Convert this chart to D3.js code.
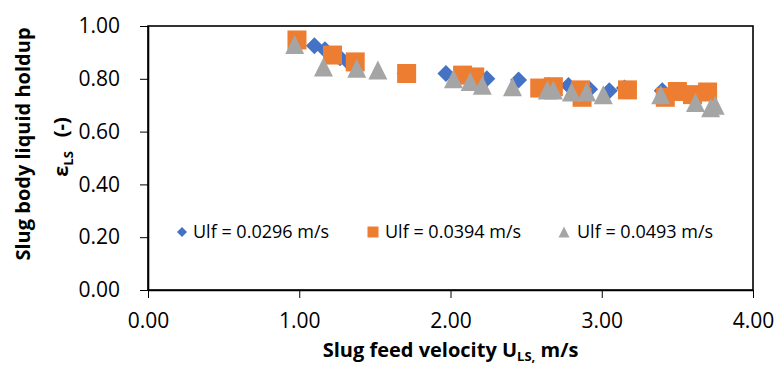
<!DOCTYPE html>
<html>
<head>
<meta charset="utf-8">
<script src="https://cdn.jsdelivr.net/npm/d3@7/dist/d3.min.js"></script>
<style>
  html, body { margin: 0; padding: 0; background: #fff; }
  svg { display: block; font-family: "Open Sans", "Liberation Sans", sans-serif; }
</style>
</head>
<body>
<svg id="chart" width="777" height="367"></svg>
<script>
// ---- Data ----
const seriesNames = ["Ulf = 0.0296 m/s", "Ulf = 0.0394 m/s", "Ulf = 0.0493 m/s"];
const seriesColors = ["#4472C4", "#ED7D31", "#A5A5A5"];
const seriesShapes = ["diamond", "square", "triangle"];

const ulf0296X = [1.10, 1.17, 1.27, 1.33, 1.70, 1.97, 2.24, 2.45, 2.65, 2.78, 2.92, 3.05, 3.15, 3.40, 3.60];
const ulf0296Y = [0.925, 0.91, 0.88, 0.86, 0.82, 0.82, 0.80, 0.795, 0.775, 0.775, 0.76, 0.755, 0.765, 0.755, 0.74];

const ulf0394X = [0.985, 1.22, 1.37, 1.71, 2.08, 2.16, 2.59, 2.68, 2.86, 2.87, 3.17, 3.42, 3.50, 3.60, 3.70];
const ulf0394Y = [0.947, 0.89, 0.864, 0.82, 0.814, 0.807, 0.765, 0.77, 0.758, 0.73, 0.758, 0.73, 0.752, 0.74, 0.75];

const ulf0493X = [0.97, 1.16, 1.38, 1.52, 2.02, 2.13, 2.21, 2.41, 2.64, 2.68, 2.80, 2.90, 3.01, 3.39, 3.62, 3.72, 3.75];
const ulf0493Y = [0.93, 0.845, 0.84, 0.833, 0.80, 0.79, 0.776, 0.77, 0.758, 0.758, 0.75, 0.75, 0.74, 0.74, 0.71, 0.69, 0.70];

const xTicks = [0, 1, 2, 3, 4];
const yTicks = [0, 0.2, 0.4, 0.6, 0.8, 1.0];

const seriesX = [ulf0296X, ulf0394X, ulf0493X];
const seriesY = [ulf0296Y, ulf0394Y, ulf0493Y];

// ---- Layout ----
const svg = d3.select("#chart");
const plot = { left: 148, right: 753, top: 26, bottom: 290 };

const x = d3.scaleLinear().domain([0, 4]).range([plot.left, plot.right]);
const y = d3.scaleLinear().domain([0, 1]).range([plot.bottom, plot.top]);

function shapePath(shape, s) {
  const h = s / 2;
  if (shape === "diamond") return `M0,${-h}L${h},0L0,${h}L${-h},0Z`;
  if (shape === "square") return `M${-h},${-h}H${h}V${h}H${-h}Z`;
  return `M0,${-h}L${h},${h}L${-h},${h}Z`;
}
const markerSize = { diamond: 17, square: 19, triangle: 19 };
const legendSize = { diamond: 10, square: 11, triangle: 11 };

// Frame
svg.append("rect")
  .attr("x", plot.left).attr("y", plot.top)
  .attr("width", plot.right - plot.left).attr("height", plot.bottom - plot.top)
  .attr("fill", "none").attr("stroke", "#000").attr("stroke-width", 1.6);

// Axes
const xAxis = d3.axisBottom(x).tickValues(xTicks).tickFormat(d3.format(".2f")).tickSizeInner(8).tickSizeOuter(0).tickPadding(15);
const yAxis = d3.axisLeft(y).tickValues(yTicks).tickFormat(d3.format(".2f")).tickSizeInner(8).tickSizeOuter(0).tickPadding(20);

const gx = svg.append("g").attr("transform", `translate(0,${plot.bottom})`).call(xAxis);
const gy = svg.append("g").attr("transform", `translate(${plot.left},0)`).call(yAxis);
[gx, gy].forEach(g => {
  g.select(".domain").attr("stroke", "#000").attr("stroke-width", 1.6);
  g.selectAll(".tick line").attr("stroke", "#000").attr("stroke-width", 1);
  g.selectAll(".tick text").attr("font-size", 21).attr("fill", "#000")
    .attr("font-family", "'Open Sans', sans-serif");
});

// Points
seriesX.forEach((xs, i) => {
  const pts = xs.map((v, j) => [v, seriesY[i][j]]);
  svg.append("g").selectAll("path").data(pts).join("path")
    .attr("transform", d => `translate(${x(d[0])},${y(d[1])})`)
    .attr("d", shapePath(seriesShapes[i], markerSize[seriesShapes[i]]))
    .attr("fill", seriesColors[i]);
});

// Legend
const legendPos = [{ mx: 182, tx: 193 }, { mx: 373, tx: 385 }, { mx: 564, tx: 577 }];
const legendY = 232;
seriesNames.forEach((name, i) => {
  svg.append("path")
    .attr("transform", `translate(${legendPos[i].mx},${legendY})`)
    .attr("d", shapePath(seriesShapes[i], legendSize[seriesShapes[i]]))
    .attr("fill", seriesColors[i]);
  svg.append("text")
    .attr("x", legendPos[i].tx).attr("y", legendY)
    .attr("dy", "0.35em").attr("font-size", 18).attr("fill", "#000")
    .text(name);
});

// X title
const xt = svg.append("text")
  .attr("x", (plot.left + plot.right) / 2).attr("y", 357)
  .attr("text-anchor", "middle").attr("font-size", 20).attr("font-weight", "bold").attr("fill", "#000");
xt.append("tspan").text("Slug feed velocity U");
xt.append("tspan").attr("font-size", 13).attr("dy", 4).text("LS,");
xt.append("tspan").attr("dy", -4).text(" m/s");

// Y title
svg.append("text")
  .attr("transform", "translate(30,144) rotate(-90)")
  .attr("text-anchor", "middle").attr("font-size", 20).attr("font-weight", "bold").attr("fill", "#000")
  .text("Slug body liquid holdup");
const yt2 = svg.append("text")
  .attr("transform", "translate(68,147) rotate(-90)")
  .attr("text-anchor", "middle").attr("font-size", 20).attr("font-weight", "bold").attr("fill", "#000");
yt2.append("tspan").text("ε");
yt2.append("tspan").attr("font-size", 13).attr("dy", 5).text("LS");
yt2.append("tspan").attr("dy", -5).attr("dx", 14).text("(-)");
</script>
</body>
</html>
